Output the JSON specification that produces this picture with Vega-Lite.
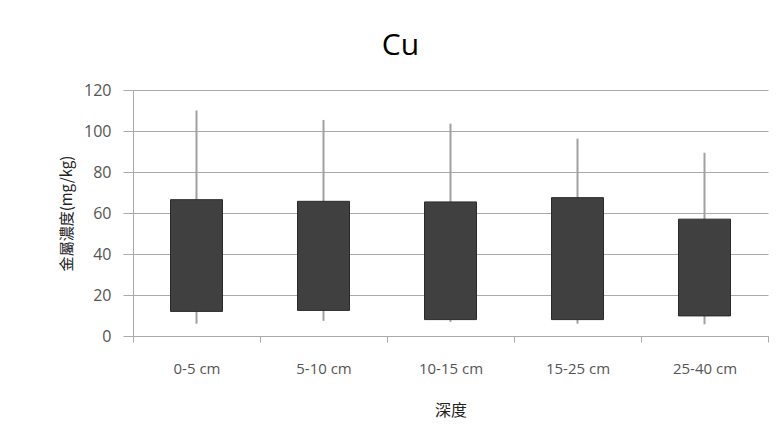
{
  "$schema": "https://vega.github.io/schema/vega-lite/v6.json",
  "autosize": "none",
  "width": 635,
  "height": 246,
  "padding": {"left": 133, "top": 90, "right": 16, "bottom": 109},
  "background": "white",
  "title": {
    "text": "Cu",
    "font": "Open Sans",
    "fontSize": 30,
    "fontWeight": "normal",
    "color": "#000000",
    "baseline": "alphabetic",
    "offset": -3,
    "dx": -50
  },
  "config": {
    "view": {"stroke": null},
    "axis": {
      "labelFont": "Open Sans",
      "labelColor": "#555555",
      "titleFont": "Noto Sans CJK TC",
      "titleFontWeight": "normal",
      "titleColor": "#222222",
      "domainColor": "#aaaaaa",
      "tickColor": "#aaaaaa",
      "gridColor": "#aaaaaa"
    }
  },
  "data": {
    "values": [
      {"depth": "0-5 cm", "low": 6, "q1": 12, "q3": 66.5, "high": 110},
      {"depth": "5-10 cm", "low": 7.4, "q1": 12.5, "q3": 65.7, "high": 105.4},
      {"depth": "10-15 cm", "low": 6.9, "q1": 8, "q3": 65.4, "high": 103.6},
      {"depth": "15-25 cm", "low": 6, "q1": 8, "q3": 67.5, "high": 96.3},
      {"depth": "25-40 cm", "low": 5.7, "q1": 9.8, "q3": 57, "high": 89.4}
    ]
  },
  "encoding": {
    "x": {
      "field": "depth",
      "type": "nominal",
      "sort": null,
      "title": "深度",
      "axis": {
        "labelAngle": 0,
        "labelFontSize": 15,
        "tickBand": "extent",
        "tickSize": 6,
        "labelPadding": 19,
        "titleFontSize": 16,
        "titlePadding": 26,
        "grid": false
      }
    }
  },
  "layer": [
    {
      "mark": {"type": "rule", "color": "#a0a0a0", "strokeWidth": 2},
      "encoding": {
        "y": {
          "field": "low",
          "type": "quantitative",
          "scale": {"domain": [0, 120]},
          "title": "金屬濃度(mg/kg)",
          "axis": {
            "values": [0, 20, 40, 60, 80, 100, 120],
            "labelFontSize": 16,
            "tickSize": 10,
            "labelPadding": 12,
            "titleFontSize": 15,
            "titlePadding": 9,
            "grid": true
          }
        },
        "y2": {"field": "high"}
      }
    },
    {
      "mark": {"type": "bar", "size": 52, "color": "#404040", "stroke": "#2a2a2a", "strokeWidth": 1},
      "encoding": {
        "y": {"field": "q1", "type": "quantitative"},
        "y2": {"field": "q3"}
      }
    }
  ]
}
